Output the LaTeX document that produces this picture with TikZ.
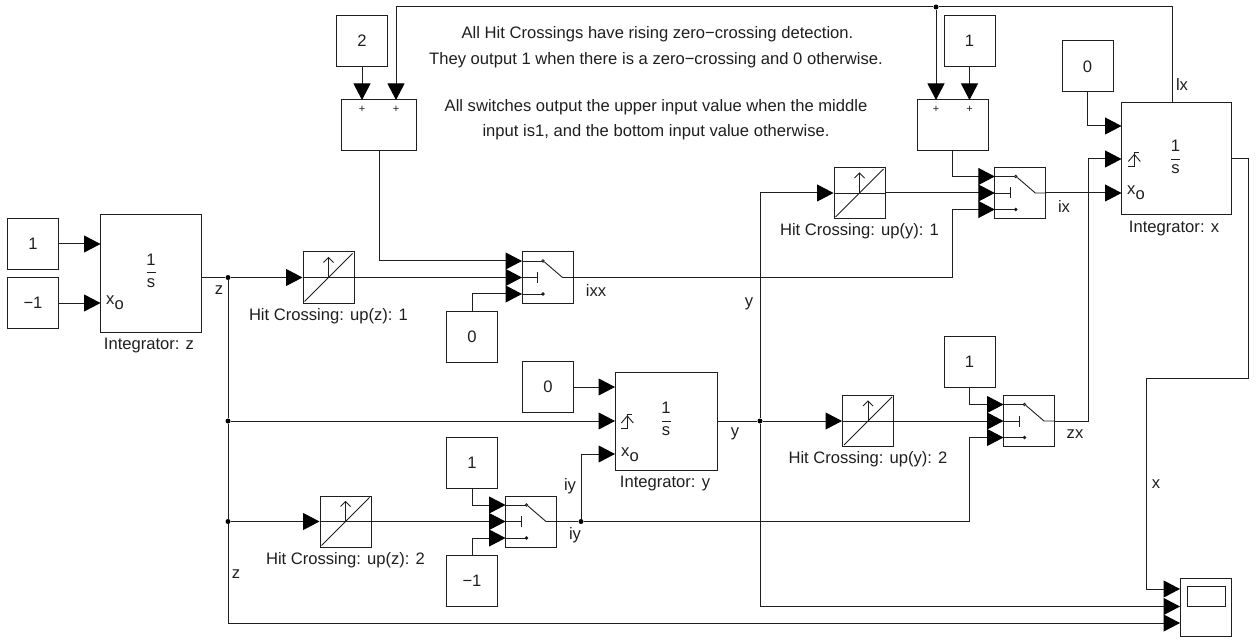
\documentclass[tikz,border=0pt]{standalone}
\usepackage{fontspec}
\setmainfont{Liberation Sans}
\usetikzlibrary{arrows.meta,calc}
\definecolor{ink}{gray}{0.12}
\tikzset{
  every node/.style={font=\fontsize{16.6}{19}\selectfont, text=ink},
  blockbox/.style={draw=ink, line width=1pt, inner sep=0pt, minimum width=#1, anchor=center},
  wire/.style={draw=ink, line width=1pt},
  feed/.style={wire, -{Triangle[length=16.5pt,width=17pt,color=black]}},
  dotmark/.style={circle, fill=black, inner sep=0pt, minimum size=5pt},
  lbl/.style={inner sep=0pt, anchor=center},
  icon/.style={draw=ink, line width=0.9pt},
  plus/.style={inner sep=0pt, font=\fontsize{11}{11}\selectfont}
}
% constant block: name, cx, cy, value
\newcommand\ConstBlock[4]{\node[blockbox=51pt, minimum height=51pt] (#1) at (#2,#3) {#4};}
% switch: name, cx, cy
\newcommand\SwitchBlock[3]{%
  \node[blockbox=51pt, minimum height=51pt] (#1) at (#2,#3) {};
  \coordinate (#1-a) at (#2-25.5,#3-16.5);
  \coordinate (#1-b) at (#2-25.5,#3);
  \coordinate (#1-c) at (#2-25.5,#3+16.5);
  \draw[icon] (#1-a) -- (#2-5.5,#3-16.5);
  \draw[icon] (#1-c) -- (#2-5.5,#3+16.5);
  \draw[icon] (#1-b) -- (#2-10,#3);
  \draw[icon] (#2-10,#3-5.5) -- (#2-10,#3+5.5);
  \draw[icon, fill=white] (#2-4.5,#3-16.5) circle (1.3);
  \draw[icon, fill=black] (#2-4.5,#3+16.5) circle (1.3);
  \draw[icon] (#2-3,#3-15.5) -- (#2+15,#3) -- (#1.east);
}
% hit crossing: name, cx, cy, label
\newcommand\HitBlock[4]{%
  \node[blockbox=51pt, minimum height=51pt] (#1) at (#2,#3) {};
  \draw[icon] (#1.west) -- (#1.east);
  \draw[icon] (#2-24,#3+24) -- (#2+24,#3-24);
  \draw[icon] (#2,#3) -- (#2,#3-20);
  \draw[icon] (#2-5,#3-15) -- (#2,#3-20) -- (#2+5,#3-15);
  \node[lbl] (#1-lab) at (#2,#3+38.5) {#4};
}
% sum: name, cx, cy, width, xa, xb
\newcommand\SumBlock[6]{%
  \node[blockbox=#4pt, minimum height=51pt] (#1) at (#2,#3) {};
  \coordinate (#1-a) at (#5,#3-25.5);
  \coordinate (#1-b) at (#6,#3-25.5);
  \node[plus] (#1-pa) at (#5,#3-16.5) {+};
  \node[plus] (#1-pb) at (#6,#3-16.5) {+};
}
% reset icon
\newcommand\ResetIcon[2]{%
  \draw[icon] (#1-6.5,#2+7) -- (#1,#2+7) -- (#1,#2-7) -- (#1+4.5,#2-7);
  \draw[icon] (#1-6,#2+2) -- (#1,#2-5) -- (#1+6,#2+2);
}
\begin{document}
\begin{tikzpicture}[x=1pt,y=-1pt]
\useasboundingbox (0,0) rectangle (1259,639);
% Constants
\ConstBlock{cOne}{33}{244}{1}
\ConstBlock{cMinus}{33}{303}{−1}
\ConstBlock{cTwo}{362}{41}{2}
\ConstBlock{cOneB}{969.5}{41}{1}
\ConstBlock{cZeroX}{1087.5}{66.5}{0}
\ConstBlock{cZeroS}{472}{337}{0}
\ConstBlock{cZeroY}{548}{387}{0}
\ConstBlock{cOneC}{969.5}{362}{1}
\ConstBlock{cOneD}{472}{463}{1}
\ConstBlock{cMinusD}{472}{581}{−1}
% Integrators
\node[blockbox=101pt, minimum height=117pt] (intZ) at (151,273.5) {};
\node[blockbox=102pt, minimum height=98pt] (intY) at (666,421) {};
\node[blockbox=110pt, minimum height=112pt] (intX) at (1176.5,159) {};
\node[lbl] (intZlab) at (149,346) {Integrator: z};
\node[lbl] (intYlab) at (665,484) {Integrator: y};
\node[lbl] (intXlab) at (1174,229) {Integrator: x};
% 1/s
\node[lbl] (zOne) at (151,260) {1}; \node[lbl] (zS) at (151,283) {s};
\draw[icon] (147,272) -- (156,272);
\node[lbl] (yOne) at (666,408) {1}; \node[lbl] (yS) at (666,431) {s};
\draw[icon] (661.5,421) -- (670.5,421);
\node[lbl] (xOne) at (1175.5,146) {1}; \node[lbl] (xS) at (1175.5,169) {s};
\draw[icon] (1171,159.5) -- (1180,159.5);
% x0
\node[lbl, anchor=west] (zXo) at (106,303) {x\raisebox{-5pt}{o}};
\node[lbl, anchor=west] (yXo) at (621,455) {x\raisebox{-5pt}{o}};
\node[lbl, anchor=west] (xXo) at (1127,193) {x\raisebox{-5pt}{o}};
\ResetIcon{627.3}{421}
\ResetIcon{1134.3}{159.5}
% Hit crossings
\HitBlock{hitZa}{328.5}{277.5}{Hit Crossing: up(z): 1}
\HitBlock{hitZb}{345.5}{521.5}{Hit Crossing: up(z): 2}
\HitBlock{hitYa}{859.5}{193}{Hit Crossing: up(y): 1}
\HitBlock{hitYb}{868}{421}{Hit Crossing: up(y): 2}
% Switches
\SwitchBlock{swA}{547.5}{277.5}
\SwitchBlock{swB}{531}{521.5}
\SwitchBlock{swC}{1020.3}{193}
\SwitchBlock{swD}{1029}{421}
% Sums
\SumBlock{sumA}{379}{125.5}{74.5}{362}{396}
\SumBlock{sumB}{952.8}{125.5}{71}{936}{969.5}
% Scope
\node[blockbox=51pt, minimum height=58pt] (scope) at (1205.5,607) {};
\node[draw=ink, line width=1pt, minimum width=38pt, minimum height=20pt, inner sep=0pt] (screen) at (1206,596) {};
% Ports
\coordinate (scopeA) at (1180,589);
\coordinate (scopeB) at (1180,606.5);
\coordinate (scopeC) at (1180,623);
\coordinate (intXa) at (1121.5,126);
\coordinate (intXb) at (1121.5,159);
\coordinate (intXc) at (1121.5,193);
\coordinate (intYa) at (615,387);
\coordinate (intYb) at (615,421);
\coordinate (intYc) at (615,454);
\coordinate (intZa) at (100.5,244);
\coordinate (intZb) at (100.5,303);
% Junctions
\node[dotmark] (jZa) at (228,277.5) {};
\node[dotmark] (jZb) at (228,421) {};
\node[dotmark] (jZc) at (228,521.5) {};
\node[dotmark] (jY) at (760,421) {};
\node[dotmark] (jIy) at (581,521.5) {};
\node[dotmark] (jTop) at (936,7) {};
\coordinate (topEnd) at (1172,7);
\coordinate (yTop) at (760,193);
% Wires
\draw[feed] (cOne) ++(25.5,0) -- (intZa);
\draw[feed] (cMinus) ++(25.5,0) -- (intZb);
\draw[wire] (intZ.east |- jZa) -- (jZa);
\draw[feed] (jZa) -- (hitZa.west);
\draw[feed] (hitZa.east) -- (swA-b);
\draw[wire] (jZa) -- (jZb);
\draw[wire] (jZb) -- (jZc);
\draw[feed] (jZb) -- (intYb);
\draw[feed] (jZc) -- (hitZb.west);
\draw[feed] (hitZb.east) -- (swB-b);
\draw[feed] (jZc) |- (scopeC);
\draw[feed] (cTwo.south) -- (sumA-a);
\draw[feed] (jTop) -| (sumA-b);
\draw[feed] (cOneB.south) -- (sumB-b);
\draw[feed] (jTop) -- (sumB-a);
\draw[wire] (jTop) -- (topEnd) -- (intX.north -| topEnd);
\draw[feed] (sumA.south) |- (swA-a);
\draw[feed] (cZeroS.north) |- (swA-c);
\draw[feed] (swA.east) -| ($(swC-c)+(-42,0)$) -- (swC-c);
\draw[feed] (sumB.south) |- (swC-a);
\draw[feed] (hitYa.east) -- (swC-b);
\draw[feed] (yTop) -- (hitYa.west);
\draw[wire] (yTop) -- (jY);
\draw[feed] (jY) |- (scopeB);
\draw[feed] (swC.east) -- (intXc);
\draw[feed] (cZeroX.south) |- (intXa);
\draw[feed] (cZeroY.east) -- (intYa);
\draw[wire] (intY.east) -- (jY);
\draw[feed] (jY) -- (hitYb.west);
\draw[feed] (hitYb.east) -- (swD-b);
\draw[feed] (cOneC.south) |- (swD-a);
\draw[feed] (cOneD.south) |- (swB-a);
\draw[feed] (cMinusD.north) |- (swB-c);
\draw[wire] (swB.east) -- (jIy);
\draw[feed] (jIy) |- (intYc);
\draw[feed] (jIy) -| ($(swD-c)+(-34,0)$) -- (swD-c);
\draw[feed] (swD.east) -| ($(intXb)+(-33,0)$) -- (intXb);
\draw[feed] (intX.east) -- (1248,159) -- (1248,378) -- (1146,378) |- (scopeA);
% Signal labels
\node[lbl] (lZa) at (219,290) {z};
\node[lbl] (lZb) at (236,574) {z};
\node[lbl] (lIxx) at (596,290) {ixx};
\node[lbl] (lYa) at (749,304) {y};
\node[lbl] (lYb) at (735,434) {y};
\node[lbl] (lIya) at (570,486) {iy};
\node[lbl] (lIyb) at (575,535) {iy};
\node[lbl] (lIx) at (1064,206) {ix};
\node[lbl] (lLx) at (1182,84) {lx};
\node[lbl] (lZx) at (1075,434) {zx};
\node[lbl] (lX) at (1156,484) {x};
% Notes
\node[lbl] (noteA) at (657.5,34) {All Hit Crossings have rising zero−crossing detection.};
\node[lbl] (noteB) at (656,60) {They output 1 when there is a zero−crossing and 0 otherwise.};
\node[lbl] (noteC) at (656,107) {All switches output the upper input value when the middle};
\node[lbl] (noteD) at (656,132) {input is1, and the bottom input value otherwise.};
\end{tikzpicture}
\end{document}
